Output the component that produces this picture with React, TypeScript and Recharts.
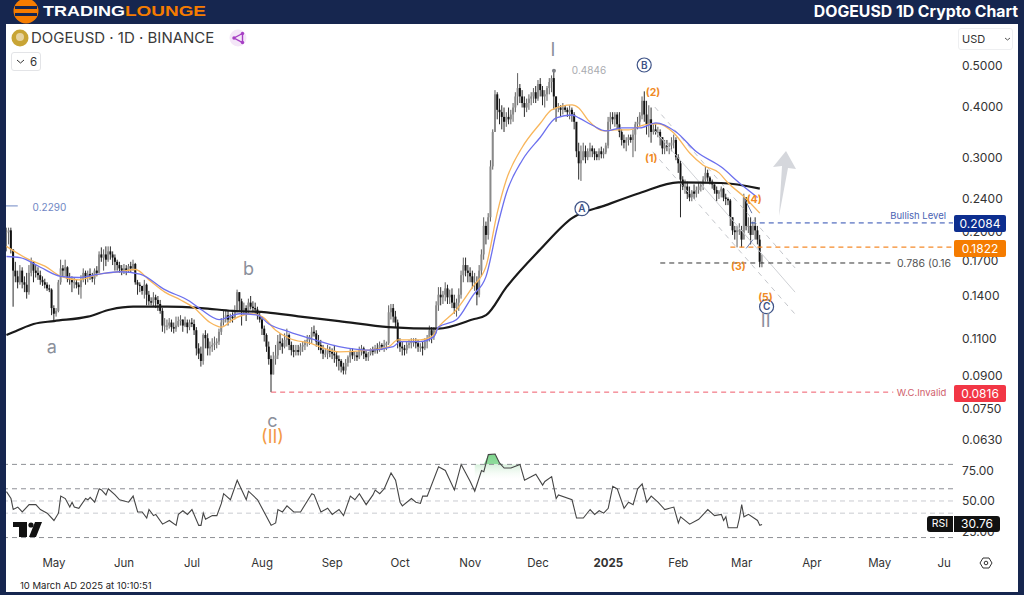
import React from "react";
import { ComposedChart, Bar, Line, Area, XAxis, YAxis, ReferenceLine, ReferenceDot } from "recharts";

const candleFirstDay = -21;
const candleHigh = [
.203,.203,.203,.178,.168,.160,.165,.163,.155,.158,.165,.172,.168,.165,.163,.160,.155,.153,.150,.148,.145,
.132,.130,.152,.170,.165,.170,.164,.158,.155,.154,.152,.150,.156,.162,.160,.160,.162,.158,.162,.164,
.178,.182,.180,.183,.183,.183,.178,.175,.170,.168,.165,.166,.165,.166,.168,.170,.167,.152,.150,.147,
.152,.149,.143,.138,.142,.140,.139,.136,.130,.123,.122,.123,.122,.120,.124,.124,.125,.122,.124,.122,
.122,.123,.122,.117,.107,.105,.113,.115,.113,.108,.110,.111,.110,.116,.123,.128,.128,.128,.126,.127,
.132,.144,.142,.137,.134,.132,.137,.139,.135,.134,.131,.127,.124,.118,.113,.108,.100,.102,.106,.112,
.113,.110,.113,.116,.113,.108,.106,.106,.106,.107,.108,.109,.112,.112,.117,.118,.115,.112,.109,.106,
.104,.106,.105,.104,.106,.102,.100,.098,.096,.098,.100,.104,.104,.102,.102,.105,.106,.105,.103,.102,
.104,.105,.106,.107,.108,.107,.109,.108,.132,.133,.133,.128,.122,.110,.108,.106,.108,.109,.110,.110,
.110,.109,.107,.108,.110,.112,.118,.117,.117,.135,.146,.146,.143,.150,.148,.144,.145,.140,.137,.145,
.160,.172,.172,.165,.163,.160,.158,.155,.165,.180,.215,.210,.220,.295,.350,.435,.430,.415,.400,.395,
.385,.395,.390,.405,.430,.478,.450,.435,.420,.415,.425,.430,.440,.445,.460,.465,.445,.435,.445,.465,
.472,.4846,.420,.405,.400,.405,.400,.395,.400,.395,.385,.360,.325,.320,.325,.320,.315,.325,.320,.315,
.310,.315,.318,.315,.325,.375,.385,.385,.385,.385,.385,.350,.340,.335,.340,.340,.350,.365,.375,.385,
.420,.432,.410,.400,.395,.360,.360,.355,.350,.335,.330,.330,.325,.335,.340,.335,.305,.295,.270,.265,
.262,.255,.250,.258,.255,.260,.262,.270,.285,.280,.270,.265,.258,.255,.250,.255,.253,.245,.240,.238,
.215,.205,.205,.208,.205,.245,.240,.215,.215,.210,.215,.205,.195,.175];
const candleLow = [
.178,.185,.176,.131,.150,.145,.148,.145,.142,.137,.140,.155,.150,.154,.152,.148,.147,.145,.143,.142,.125,
.121,.124,.127,.148,.155,.155,.150,.148,.142,.145,.145,.140,.137,.150,.148,.150,.152,.150,.148,.155,
.158,.168,.160,.164,.168,.170,.165,.160,.160,.158,.156,.157,.156,.158,.158,.160,.148,.140,.142,.140,
.137,.132,.132,.132,.131,.130,.128,.126,.114,.113,.115,.116,.114,.113,.114,.117,.118,.114,.117,.113,
.115,.117,.112,.100,.098,.094,.095,.104,.100,.100,.102,.103,.104,.106,.112,.118,.120,.118,.120,.120,
.122,.127,.128,.118,.125,.121,.126,.129,.127,.126,.122,.120,.112,.108,.102,.095,.0816,.090,.095,.098,
.103,.101,.104,.105,.103,.100,.099,.100,.100,.100,.102,.103,.105,.106,.107,.111,.105,.103,.101,.098,
.099,.098,.099,.098,.096,.094,.092,.091,.090,.090,.094,.096,.098,.097,.097,.098,.100,.098,.097,.097,
.100,.100,.101,.101,.102,.103,.102,.103,.106,.122,.120,.117,.104,.102,.100,.100,.101,.104,.104,.105,
.104,.102,.102,.100,.103,.104,.108,.107,.109,.113,.128,.132,.133,.135,.133,.133,.130,.126,.124,.128,
.137,.150,.155,.150,.150,.145,.143,.132,.138,.155,.170,.185,.190,.210,.280,.345,.370,.360,.350,.345,
.355,.360,.360,.365,.385,.400,.405,.395,.375,.385,.390,.400,.405,.405,.410,.420,.400,.395,.410,.425,
.430,.390,.365,.385,.375,.380,.385,.375,.370,.365,.350,.300,.265,.263,.295,.290,.295,.300,.300,.295,
.295,.295,.298,.298,.305,.315,.350,.360,.355,.350,.335,.320,.315,.310,.320,.325,.300,.310,.350,.355,
.370,.365,.340,.335,.325,.340,.340,.335,.320,.305,.305,.310,.305,.310,.315,.295,.275,.215,.250,.245,
.238,.235,.235,.238,.240,.245,.248,.250,.262,.262,.258,.252,.245,.235,.238,.240,.235,.230,.230,.205,
.195,.190,.182,.195,.182,.198,.200,.197,.185,.195,.190,.185,.163,.163];
const candleClose = [
.198,.200,.180,.160,.155,.150,.160,.150,.148,.142,.158,.168,.160,.158,.156,.152,.150,.148,.145,.144,.130,
.126,.128,.150,.162,.160,.163,.153,.152,.150,.150,.148,.146,.152,.158,.154,.157,.155,.153,.160,.158,
.175,.172,.175,.170,.178,.175,.172,.168,.165,.162,.160,.162,.160,.164,.162,.166,.150,.148,.147,.143,
.148,.140,.135,.134,.138,.136,.133,.128,.118,.118,.118,.120,.117,.116,.118,.121,.122,.118,.120,.117,
.120,.119,.115,.104,.101,.097,.112,.110,.104,.105,.106,.107,.108,.114,.120,.122,.125,.122,.124,.123,
.128,.142,.135,.128,.130,.127,.134,.131,.130,.129,.125,.122,.116,.112,.105,.098,.090,.098,.100,.108,
.107,.105,.109,.112,.106,.103,.102,.103,.102,.105,.106,.108,.109,.111,.114,.113,.108,.106,.103,.101,
.101,.103,.102,.101,.100,.098,.097,.094,.092,.096,.099,.102,.100,.100,.099,.103,.104,.101,.099,.101,
.103,.102,.104,.103,.106,.105,.106,.107,.127,.130,.124,.120,.108,.105,.104,.103,.106,.107,.108,.108,
.107,.105,.105,.104,.108,.110,.115,.112,.115,.132,.140,.138,.140,.145,.138,.140,.134,.130,.134,.140,
.156,.165,.160,.158,.155,.150,.150,.140,.160,.175,.205,.195,.215,.285,.345,.425,.390,.385,.375,.365,
.375,.370,.380,.395,.420,.440,.420,.405,.395,.405,.415,.420,.430,.415,.450,.435,.420,.425,.440,.455,
.465,.420,.395,.395,.390,.395,.390,.385,.390,.380,.365,.310,.290,.295,.310,.300,.310,.315,.310,.305,
.300,.310,.305,.308,.320,.365,.375,.370,.380,.360,.345,.330,.325,.330,.335,.330,.340,.360,.365,.378,
.410,.380,.360,.370,.345,.350,.345,.345,.335,.315,.320,.318,.320,.325,.330,.300,.290,.265,.255,.255,
.245,.240,.248,.245,.250,.255,.258,.265,.275,.268,.262,.258,.250,.245,.248,.252,.240,.238,.236,.215,
.200,.198,.200,.200,.190,.240,.205,.205,.195,.205,.200,.190,.168,.168];

const orangeDays = [-21,-11,-4,3,11,20,29,36,42,49,56,62,69,74,79,87,92,98,104,113,126,139,148,152,162,167,170,178,185,191,196,200,207,215,220,229,232,236,243,248,254,261,267,274,281,287,294,298,305,312];
const orangeValues = [.183,.170,.164,.155,.152,.157,.159,.161,.152,.142,.136,.130,.120,.117,.122,.126,.124,.115,.110,.107,.102,.103,.105,.109,.109,.111,.117,.129,.146,.164,.221,.265,.317,.362,.390,.401,.394,.369,.347,.349,.349,.359,.361,.343,.307,.287,.275,.260,.241,.220];
const blueDays = [-21,-15,-6,3,11,20,29,38,49,60,65,73,82,90,95,104,113,126,139,150,153,162,168,170,178,185,191,196,200,207,215,222,229,232,238,244,251,259,266,275,284,295,303,311];
const blueValues = [.173,.172,.163,.155,.154,.157,.159,.157,.144,.135,.129,.122,.126,.125,.119,.114,.110,.105,.103,.105,.108,.108,.111,.117,.122,.139,.155,.204,.246,.295,.335,.373,.379,.373,.358,.347,.353,.353,.363,.345,.309,.284,.260,.240];
const blackDays = [-21,-16,-9,0,15,25,35,50,65,79,94,109,126,148,170,185,191,200,215,229,244,259,276,295,312];
const blackValues = [.112,.115,.119,.121,.124,.129,.131,.131,.130,.128,.127,.124,.121,.117,.116,.122,.125,.146,.180,.214,.230,.246,.261,.260,.252];

const rsiDays = [-21,-19,-18,-16,-14,-11,-8,-6,-3,0,2,3,5,7,8,9,11,14,15,16,18,20,21,23,24,27,29,33,35,37,39,41,42,44,45,48,51,54,55,57,59,61,64,65,66,67,70,72,74,75,78,81,83,85,86,90,92,96,98,99,101,103,106,109,114,115,118,121,123,126,128,131,133,135,138,141,142,144,146,149,151,153,154,158,160,162,163,165,170,173,177,180,184,186,189,190,192,195,197,199,202,206,208,213,216,217,220,222,223,229,231,234,237,239,241,243,245,247,249,252,254,256,258,260,262,264,267,270,274,276,277,281,285,289,292,295,296,297,298,302,303,304,305,307,311,312,313];
const rsiValues = [57.7,52,43,45,41,47,47,43,40,34,40,54,52,45,49,45,44,52,51,53,49,60,59,55,60,55,51,49,54,41,41,36,43,38,39,31,34,30,39,42,39,43,30,30,40,35,38,38,48,56,51,67,59,51,58,51,44,30,32,43,41,46,41,41,56,55,41,44,39,43,38,54,51,56,47,55,59,56,60,73,67,49,46,52,49,48,54,54,78,75,59,80,66,58,75,74,88,88.5,81,77,77,80,67,72,63,66,70,52,55,51,36,36,43,39,42,40,44,62,60,44,49,47,60,64,49,54,49,43,45,32,37,31,35,43,38,39,34,37,28,28,36,47,37,39,34,30,30.76];
const rsiHotDays = [186,189,190,192,195,197,199,202,206];
const rsiHotValues = [74,75,76,88,88.5,81,77,77,80];

const priceTicks = [0.5,0.4,0.3,0.24,0.2,0.17,0.14,0.11,0.09,0.075,0.063];
const rsiTicks = [75,50,25];
const rsiGuides = [
  { level: 80, color: "#8e9096" },
  { level: 60, color: "#8e9096" },
  { level: 50, color: "#c9cbd0" },
  { level: 40, color: "#c9cbd0" },
  { level: 20, color: "#8e9096" },
];
const monthDays = [0,31,61,92,123,153,184,214,245,276,304,335,365,393.5];
const monthLabels = ["May","Jun","Jul","Aug","Sep","Oct","Nov","Dec","2025","Feb","Mar","Apr","May","Ju"];

const bullishLevel = 0.2084;
const entryLevel = 0.1822;
const fibLevel = 0.1669;
const invalidLevel = 0.0816;
const oldLevel = 0.229;

const waveLabels = [
  { d: 220.6, p: 0.543, t: "I", color: "#8b909b", size: 18 },
  { d: 86, p: 0.162, t: "b", color: "#8b909b", size: 18 },
  { d: -1, p: 0.105, t: "a", color: "#8b909b", size: 18 },
  { d: 96.6, p: 0.0695, t: "c", color: "#8b909b", size: 18 },
  { d: 96.6, p: 0.0636, t: "(II)", color: "#f39a45", size: 18 },
  { d: 314.6, p: 0.121, t: "II", color: "#8b909b", size: 18 },
  { d: 264.8, p: 0.431, t: "(2)", color: "#f08a24", size: 10.5 },
  { d: 264, p: 0.299, t: "(1)", color: "#f08a24", size: 10.5 },
  { d: 309.5, p: 0.238, t: "(4)", color: "#f08a24", size: 10.5 },
  { d: 302.5, p: 0.164, t: "(3)", color: "#f08a24", size: 10.5 },
  { d: 314.5, p: 0.138, t: "(5)", color: "#f08a24", size: 10.5 },
];
const circleLabels = [
  { d: 260.9, p: 0.5, t: "B" },
  { d: 233.4, p: 0.2255, t: "A" },
  { d: 315, p: 0.131, t: "C" },
];
const channelLines = [
  { x1: 265.6, y1: 0.396, x2: 327.6, y2: 0.1624, color: "#c4c6cb", dash: "5 5" },
  { x1: 265.6, y1: 0.347, x2: 327.6, y2: 0.142, color: "#cfd1d5", dash: "" },
  { x1: 264.7, y1: 0.309, x2: 327.6, y2: 0.1257, color: "#c4c6cb", dash: "5 5" },
  { x1: 305, y1: 0.24, x2: 308.5, y2: 0.22, color: "#6a7aa8", dash: "" },
  { x1: 306, y1: 0.181, x2: 309, y2: 0.19, color: "#6a7aa8", dash: "" },
];

const rows = candleHigh.map((high, i) => ({
  day: candleFirstDay + i,
  high,
  low: candleLow[i],
  close: candleClose[i],
  open: i === 0 ? candleClose[0] : candleClose[i - 1],
}));
const zip = (days: number[], values: number[]) => days.map((day, i) => ({ day, value: values[i] }));

const NAVY = "#16264f";
const FONT = "Inter, 'Noto Sans', sans-serif";
const X_DOMAIN: [number, number] = [-21.2, 397.4];

function Candle(props: any) {
  const { x, y, width, height, payload } = props;
  if (!payload) return null;
  const cx = x + width / 2;
  const span = Math.log(payload.high / payload.low) || 1;
  const at = (v: number) => y + (height * Math.log(payload.high / v)) / span;
  const top = at(Math.max(payload.open, payload.close));
  const bottom = at(Math.min(payload.open, payload.close));
  const up = payload.close >= payload.open;
  return (
    <g>
      <line x1={cx} x2={cx} y1={y} y2={y + height} stroke={up ? "#5e5e5e" : "#2a2a2a"} strokeWidth={1} />
      <rect x={cx - 1} y={top} width={2} height={Math.max(bottom - top, 1)} fill={up ? "#8a8a8a" : "#111"} />
    </g>
  );
}

function MonthTick(props: any) {
  const { x, y, payload } = props;
  const i = monthDays.indexOf(payload.value);
  const bold = monthLabels[i] === "2025";
  return (
    <text x={x} y={y} textAnchor="middle" fontFamily={FONT} fontSize={11.5} fontWeight={bold ? 700 : 400} fill="#333">
      {monthLabels[i]}
    </text>
  );
}

function Badge({ top, color, text }: { top: number; color: string; text: string }) {
  return (
    <div style={{ position: "absolute", left: 954, top, width: 52, height: 17, background: color, color: "#fff", borderRadius: 2, fontFamily: FONT, fontSize: 12, lineHeight: "17px", textAlign: "center" }}>
      {text}
    </div>
  );
}

export default function App() {
  return (
    <div style={{ position: "fixed", left: 0, top: 0, width: 1024, height: 595, background: NAVY, overflow: "hidden" }}>
      <div style={{ position: "absolute", left: 6, top: 24, width: 1012, height: 568, background: "#fff" }} />

      <div style={{ position: "absolute", left: 6, top: 24 }}>
        <ComposedChart width={1012} height={439} data={rows} margin={{ top: 0, right: 0, bottom: 0, left: 0 }} barSize={2}>
          <XAxis hide type="number" dataKey="day" domain={X_DOMAIN} allowDataOverflow />
          <YAxis
            orientation="right"
            width={65}
            scale="log"
            domain={[0.0551, 0.6275]}
            allowDataOverflow
            ticks={priceTicks}
            interval={0}
            tickFormatter={(v: number) => v.toFixed(4)}
            tick={{ fontFamily: FONT, fontSize: 12, fill: "#333", dy: 1 }}
            tickLine={false}
            axisLine={false}
            tickSize={0}
            tickMargin={9}
          />
          {channelLines.map((c, i) => (
            <ReferenceLine key={i} segment={[{ x: c.x1, y: c.y1 }, { x: c.x2, y: c.y2 }]} stroke={c.color} strokeWidth={1} strokeDasharray={c.dash} />
          ))}
          <Line data={zip(blackDays, blackValues)} dataKey="value" type="monotone" stroke="#1a1a1a" strokeWidth={2.2} dot={false} isAnimationActive={false} />
          <Bar dataKey={(r: any) => [r.low, r.high]} shape={<Candle />} isAnimationActive={false} />
          <Line data={zip(orangeDays, orangeValues)} dataKey="value" type="monotone" stroke="#f8b65c" strokeWidth={1.3} dot={false} isAnimationActive={false} />
          <Line data={zip(blueDays, blueValues)} dataKey="value" type="monotone" stroke="#6c70ee" strokeWidth={1.3} dot={false} isAnimationActive={false} />

          <ReferenceLine segment={[{ x: -21.2, y: oldLevel }, { x: -16, y: oldLevel }]} stroke="#6f87c4" strokeWidth={1} />
          <ReferenceLine segment={[{ x: 308, y: bullishLevel }, { x: 397.4, y: bullishLevel }]} stroke="#2b4bb0" strokeDasharray="5 4" strokeWidth={1} />
          <ReferenceLine segment={[{ x: 299, y: entryLevel }, { x: 397.4, y: entryLevel }]} stroke="#f58a2a" strokeDasharray="5 4" strokeWidth={1.1} />
          <ReferenceLine segment={[{ x: 268, y: fibLevel }, { x: 371, y: fibLevel }]} stroke="#333" strokeDasharray="5 4" strokeWidth={1} />
          <ReferenceLine segment={[{ x: 96, y: invalidLevel }, { x: 371, y: invalidLevel }]} stroke="#ef5a6a" strokeDasharray="5 4" strokeWidth={1} />

          <ReferenceDot x={221} y={0.4846} r={2} fill="#7d7f85" stroke="none" />
          <ReferenceDot x={236.5} y={0.4846} r={0} label={{ value: "0.4846", fontSize: 10, fontFamily: FONT, fill: "#a9abb0" }} />
          <ReferenceDot x={-2} y={0.2275} r={0} label={{ value: "0.2290", fontSize: 10, fontFamily: FONT, fill: "#6f87c4" }} />
          <ReferenceDot x={382} y={0.2167} r={0} label={{ value: "Bullish Level", fontSize: 9.5, fontFamily: FONT, fill: "#4a63b3" }} />
          <ReferenceDot x={384.6} y={fibLevel} r={0} label={{ value: "0.786 (0.16", fontSize: 10.5, fontFamily: FONT, fill: "#555" }} />
          <ReferenceDot x={383.5} y={invalidLevel} r={0} label={{ value: "W.C.Invalid", fontSize: 9.5, fontFamily: FONT, fill: "#d0606c" }} />

          {waveLabels.map((w) => (
            <ReferenceDot key={w.t + w.d} x={w.d} y={w.p} r={0} label={{ value: w.t, fontSize: w.size, fontFamily: FONT, fill: w.color, fontWeight: w.size < 12 ? 700 : 400 }} />
          ))}
          {circleLabels.map((c) => (
            <ReferenceDot key={c.t} x={c.d} y={c.p} r={7} fill="#fff" stroke="#3f5488" strokeWidth={1.2} label={{ value: c.t, fontSize: 10, fontFamily: FONT, fill: "#3f5488", fontWeight: 600 }} />
          ))}
        </ComposedChart>
      </div>

      <div style={{ position: "absolute", left: 6, top: 450 }}>
        <ComposedChart width={1012} height={130} margin={{ top: 0, right: 0, bottom: 0, left: 0 }}>
          <defs>
            <linearGradient id="hot" x1="0" y1="0" x2="0" y2="1">
              <stop offset="0%" stopColor="#7ed58d" stopOpacity={1} />
              <stop offset="40%" stopColor="#8fdc9c" stopOpacity={1} />
              <stop offset="42%" stopColor="#d3efd8" stopOpacity={0.9} />
              <stop offset="100%" stopColor="#eef9f0" stopOpacity={0} />
            </linearGradient>
          </defs>
          <XAxis
            type="number"
            dataKey="day"
            domain={X_DOMAIN}
            allowDataOverflow
            ticks={monthDays}
            interval={0}
            height={35}
            tick={<MonthTick />}
            tickLine={false}
            axisLine={false}
            tickSize={0}
            tickMargin={22}
          />
          <YAxis
            orientation="right"
            width={65}
            domain={[13.9, 91.8]}
            allowDataOverflow
            ticks={rsiTicks}
            interval={0}
            tickFormatter={(v: number) => v.toFixed(2)}
            tick={{ fontFamily: FONT, fontSize: 12, fill: "#333" }}
            tickLine={false}
            axisLine={false}
            tickSize={0}
            tickMargin={9}
          />
          {rsiGuides.map((g) => (
            <ReferenceLine key={g.level} y={g.level} stroke={g.color} strokeDasharray="5 4" strokeWidth={1} />
          ))}
          <Area
            data={zip(rsiHotDays, rsiHotValues).map((r) => ({ day: r.day, range: [68, Math.max(r.value, 80)] }))}
            dataKey="range"
            type="linear"
            stroke="none"
            fill="url(#hot)"
            fillOpacity={1}
            isAnimationActive={false}
            dot={false}
            activeDot={false}
          />
          <Line data={zip(rsiDays, rsiValues)} dataKey="value" type="linear" stroke="#454545" strokeWidth={1.1} dot={false} isAnimationActive={false} />
        </ComposedChart>
      </div>

      <Badge top={215} color="#0d2e8f" text="0.2084" />
      <Badge top={240} color="#f57c00" text="0.1822" />
      <Badge top={385} color="#f23645" text="0.0816" />

      <div style={{ position: "absolute", left: 927, top: 516, width: 26, height: 16, background: "#111", color: "#fff", borderRadius: "3px 0 0 3px", fontFamily: FONT, fontSize: 10.5, lineHeight: "16px", textAlign: "center" }}>RSI</div>
      <div style={{ position: "absolute", left: 954, top: 516, width: 46, height: 16, background: "#111", color: "#fff", borderRadius: "0 3px 3px 0", fontFamily: FONT, fontSize: 12, lineHeight: "16px", textAlign: "center" }}>30.76</div>

      <div style={{ position: "absolute", left: 31, top: 29, fontFamily: FONT, fontSize: 15, color: "#3a3a3a", whiteSpace: "nowrap", lineHeight: "18px" }}>DOGEUSD · 1D · BINANCE</div>
      <div style={{ position: "absolute", left: 11, top: 52, width: 30, height: 19, border: "1px solid #e3e4e7", borderRadius: 3, boxSizing: "border-box", background: "#fff", fontFamily: FONT, fontSize: 11.5, color: "#333", lineHeight: "18px", paddingLeft: 18 }}>6</div>
      <div style={{ position: "absolute", left: 958, top: 28, width: 55, height: 22, border: "1px solid #eeeff1", borderRadius: 3, boxSizing: "border-box", background: "#fff", fontFamily: FONT, fontSize: 11, color: "#333", lineHeight: "20px", paddingLeft: 3 }}>USD</div>
      <div style={{ position: "absolute", left: 20, top: 580, fontFamily: FONT, fontSize: 9.5, color: "#222", whiteSpace: "nowrap", lineHeight: "11px" }}>10 March AD 2025 at 10:10:51</div>
      <div style={{ position: "absolute", right: 6, top: 3, fontFamily: FONT, fontSize: 15.8, fontWeight: 700, color: "#fff", whiteSpace: "nowrap", lineHeight: "18px" }}>DOGEUSD 1D Crypto Chart</div>

      <svg width={1024} height={595} style={{ position: "absolute", left: 0, top: 0, pointerEvents: "none" }}>
        <circle cx={26} cy={11} r={12.5} fill="#f57c00" />
        <rect x={15} y={6} width={22} height={3} fill={NAVY} />
        <rect x={15} y={13} width={22} height={3} fill={NAVY} />
        <text x={43} y={16} fontFamily="'Liberation Sans', sans-serif" fontWeight={700} fontSize={14} fill="#fff" textLength={82} lengthAdjust="spacingAndGlyphs">TRADING</text>
        <text x={125} y={16} fontFamily="'Liberation Sans', sans-serif" fontWeight={700} fontSize={14} fill="#f57c00" textLength={81} lengthAdjust="spacingAndGlyphs">LOUNGE</text>

        <polygon points="786,151 796,169 788,168 779,216 782,166 773,167" fill="#d5d7dc" />

        <circle cx={20} cy={38} r={8.5} fill="#c8a435" />
        <circle cx={20} cy={37} r={4} fill="#e6d3a0" />
        <circle cx={238} cy={38} r={8.5} fill="#f4e6f8" />
        <polyline points="242.5,33.5 234,38 242.5,42.5 242.5,33.5" fill="none" stroke="#a63fc4" strokeWidth={1.4} />
        <circle cx={242.5} cy={33.5} r={1.7} fill="#a63fc4" />
        <circle cx={234} cy={38} r={1.7} fill="#a63fc4" />
        <circle cx={242.5} cy={42.5} r={1.7} fill="#a63fc4" />

        <polyline points="17,60 20.5,63 24,60" fill="none" stroke="#333" strokeWidth={1} />
        <polyline points="1005,38 1007.5,40 1010,38" fill="none" stroke="#555" strokeWidth={1} />

        <rect x={13} y={522} width={14} height={5} fill="#111" />
        <rect x={19} y={527} width={8} height={10} fill="#111" />
        <circle cx={31} cy={525} r={2.6} fill="#111" />
        <polygon points="35,522 42,522 36,537 29,537" fill="#111" />

        <polygon points="980,563 983,558 989,558 992,563 989,568 983,568" fill="none" stroke="#333" strokeWidth={1} />
        <circle cx={986} cy={563} r={1.8} fill="none" stroke="#333" strokeWidth={1} />
      </svg>
    </div>
  );
}
